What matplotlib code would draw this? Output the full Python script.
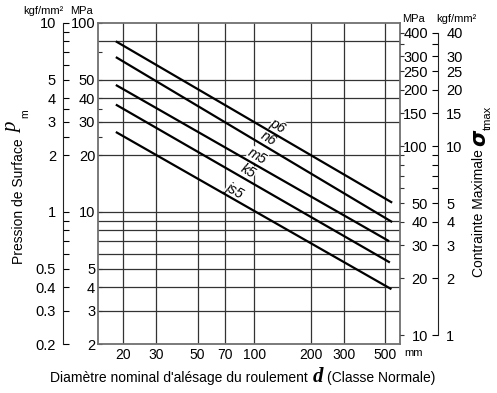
import matplotlib
matplotlib.use('Agg')
from matplotlib import pyplot as plt
from matplotlib.ticker import FixedLocator, FixedFormatter, NullFormatter
import numpy as np

plt.rcParams['font.family'] = ['Liberation Sans', 'DejaVu Sans']

W, H = 497, 393

# fit lines: bore diameter d (mm) -> surface pressure p_m (MPa)
fits = ['p6', 'n6', 'm5', 'k5', 'js5']
d_from = [18.3, 18.3, 18.3, 18.3, 18.3]
d_to = [545, 545, 525, 530, 540]
pm_from = [80, 66, 47, 37, 26.5]
pm_to = [11.2, 8.84, 7.0, 5.4, 3.9]
label_d = [134, 120, 104, 93, 79]

# axes ticks / grid
d_ticks = [20, 30, 50, 70, 100, 200, 300, 500]
pm_ticks = [100, 50, 40, 30, 20, 10, 5, 4, 3, 2]
pm_minor = [70, 35, 25]
pm_grid = [80, 50, 40, 30, 20, 10, 9, 8, 7, 6, 5, 4, 3]
kgf_ticks = [10, 5, 4, 3, 2, 1, 0.5, 0.4, 0.3, 0.2]
kgf_minor = [9, 8, 7, 6, 3.5, 2.5, 0.9, 0.8, 0.7, 0.6]
sig_ticks = [400, 300, 250, 200, 150, 100, 50, 40, 30, 20, 10]
sig_minor = [350, 90, 80, 70, 60]
sigk_ticks = [40, 30, 25, 20, 15, 10, 5, 4, 3, 2, 1]
sigk_minor = [35, 9, 8, 7, 6]
sig_factor = 4.5  # right MPa scale vs left MPa scale


def px(x, y):
    return x / W, 1 - y / H


def set_ticks(axis, major, minor):
    axis.set_major_locator(FixedLocator(major))
    axis.set_major_formatter(FixedFormatter(['%g' % v for v in major]))
    axis.set_minor_locator(FixedLocator(minor))
    axis.set_minor_formatter(NullFormatter())


fig = plt.figure(figsize=(W / 100, H / 100), dpi=100)
x0, y0 = px(98, 344)
x1, y1 = px(400, 23)
ax = fig.add_axes([x0, y0, x1 - x0, y1 - y0])
ax.set_xscale('log')
ax.set_yscale('log')
ax.set_xlim(14.7, 600)
ax.set_ylim(2, 100)

for v in d_ticks:
    ax.axvline(v, color='#333333', lw=0.9, zorder=1)
for v in pm_grid:
    ax.axhline(v, color='#333333', lw=0.9, zorder=1)

for sp in ax.spines.values():
    sp.set_color('#707070')
    sp.set_linewidth(1.3)

set_ticks(ax.xaxis, d_ticks, [])
set_ticks(ax.yaxis, pm_ticks, pm_minor)
ax.tick_params(axis='x', which='both', length=0, pad=3, labelsize=10)
ax.tick_params(axis='y', which='both', direction='in', length=3, width=0.8,
               pad=2, labelsize=10.5, color='#333333')

# fit lines and their labels
for name, da, db, pa, pb, dl in zip(fits, d_from, d_to, pm_from, pm_to, label_d):
    ax.plot([da, db], [pa, pb], color='black', lw=1.6, solid_capstyle='butt', zorder=3)
    t = np.log(dl / da) / np.log(db / da)
    pl = pa * (pb / pa) ** t
    a = ax.transData.transform((da, pa))
    b = ax.transData.transform((db, pb))
    ang = np.degrees(np.arctan2(b[1] - a[1], b[0] - a[0]))
    ax.annotate(name, (dl, pl), xytext=(0, 7), textcoords='offset points',
                ha='center', va='center', rotation=ang, fontsize=10, style='italic',
                bbox=dict(boxstyle='square,pad=0.02', fc='white', ec='none'), zorder=2)

# right MPa scale on the frame
axr = ax.twinx()
axr.set_yscale('log')
axr.set_ylim(2 * sig_factor, 100 * sig_factor)
set_ticks(axr.yaxis, sig_ticks, sig_minor)
axr.tick_params(axis='y', which='both', direction='out', length=3, width=0.8,
                pad=17, labelsize=10.5, color='#333333')
for lab in axr.get_yticklabels():
    lab.set_horizontalalignment('right')
for sp in axr.spines.values():
    sp.set_visible(False)

# left kgf/mm2 scale
axk = fig.add_axes([px(63, 0)[0], y0, 1 / W, y1 - y0])
axk.set_yscale('log')
axk.set_ylim(0.2, 10)
axk.set_xticks([])
set_ticks(axk.yaxis, kgf_ticks, kgf_minor)
for k, sp in axk.spines.items():
    sp.set_visible(k == 'left')
axk.spines['left'].set_color('#222222')
axk.patch.set_visible(False)
axk.tick_params(axis='y', which='both', direction='in', length=4, width=0.8,
                pad=5, labelsize=10.5)

# right kgf/mm2 scale
axk2 = fig.add_axes([px(437, 0)[0], y0, 1 / W, y1 - y0])
axk2.set_yscale('log')
axk2.set_ylim(2 * sig_factor / 10, 100 * sig_factor / 10)
axk2.set_xticks([])
axk2.yaxis.tick_right()
set_ticks(axk2.yaxis, sigk_ticks, sigk_minor)
for k, sp in axk2.spines.items():
    sp.set_visible(k == 'right')
axk2.spines['right'].set_bounds(1, 40)
axk2.spines['right'].set_color('#222222')
axk2.patch.set_visible(False)
axk2.tick_params(axis='y', which='both', direction='in', length=4, width=0.8,
                 pad=6, labelsize=10.5)

# units
fig.text(*px(64, 11), 'kgf/mm²', ha='right', va='center', fontsize=8)
fig.text(*px(93, 11), 'MPa', ha='right', va='center', fontsize=8)
fig.text(*px(402, 19), 'MPa', ha='left', va='center', fontsize=8)
fig.text(*px(436, 19), 'kgf/mm²', ha='left', va='center', fontsize=8)
fig.text(*px(404, 353), 'mm', ha='left', va='center', fontsize=8)

# x label
fig.text(*px(308, 382), "Diamètre nominal d'alésage du roulement", ha='right',
         va='baseline', fontsize=10)
fig.text(*px(318, 382), 'd', ha='center', va='baseline', fontsize=15,
         family='Liberation Serif', style='italic', weight='bold')
fig.text(*px(327, 382), '(Classe Normale)', ha='left', va='baseline', fontsize=10)

# left y label
fig.text(*px(26, 264), 'Pression de Surface', rotation=90, ha='right',
         va='bottom', fontsize=10)
fig.text(*px(22, 128), 'p', rotation=90, ha='right', va='center', fontsize=15,
         family='Liberation Serif', style='italic')
fig.text(*px(20, 114), 'm', rotation=90, ha='left', va='center', fontsize=7.5)

# right y label
fig.text(*px(486, 277), 'Contrainte Maximale', rotation=90, ha='right',
         va='bottom', fontsize=10)
fig.text(*px(489, 138), 'σ', rotation=90, ha='right', va='center', fontsize=15,
         family='DejaVu Sans', style='italic', weight='bold')
fig.text(*px(483, 118), 'tmax', rotation=90, ha='left', va='center', fontsize=8)

fig.savefig('out.png', dpi=100)
